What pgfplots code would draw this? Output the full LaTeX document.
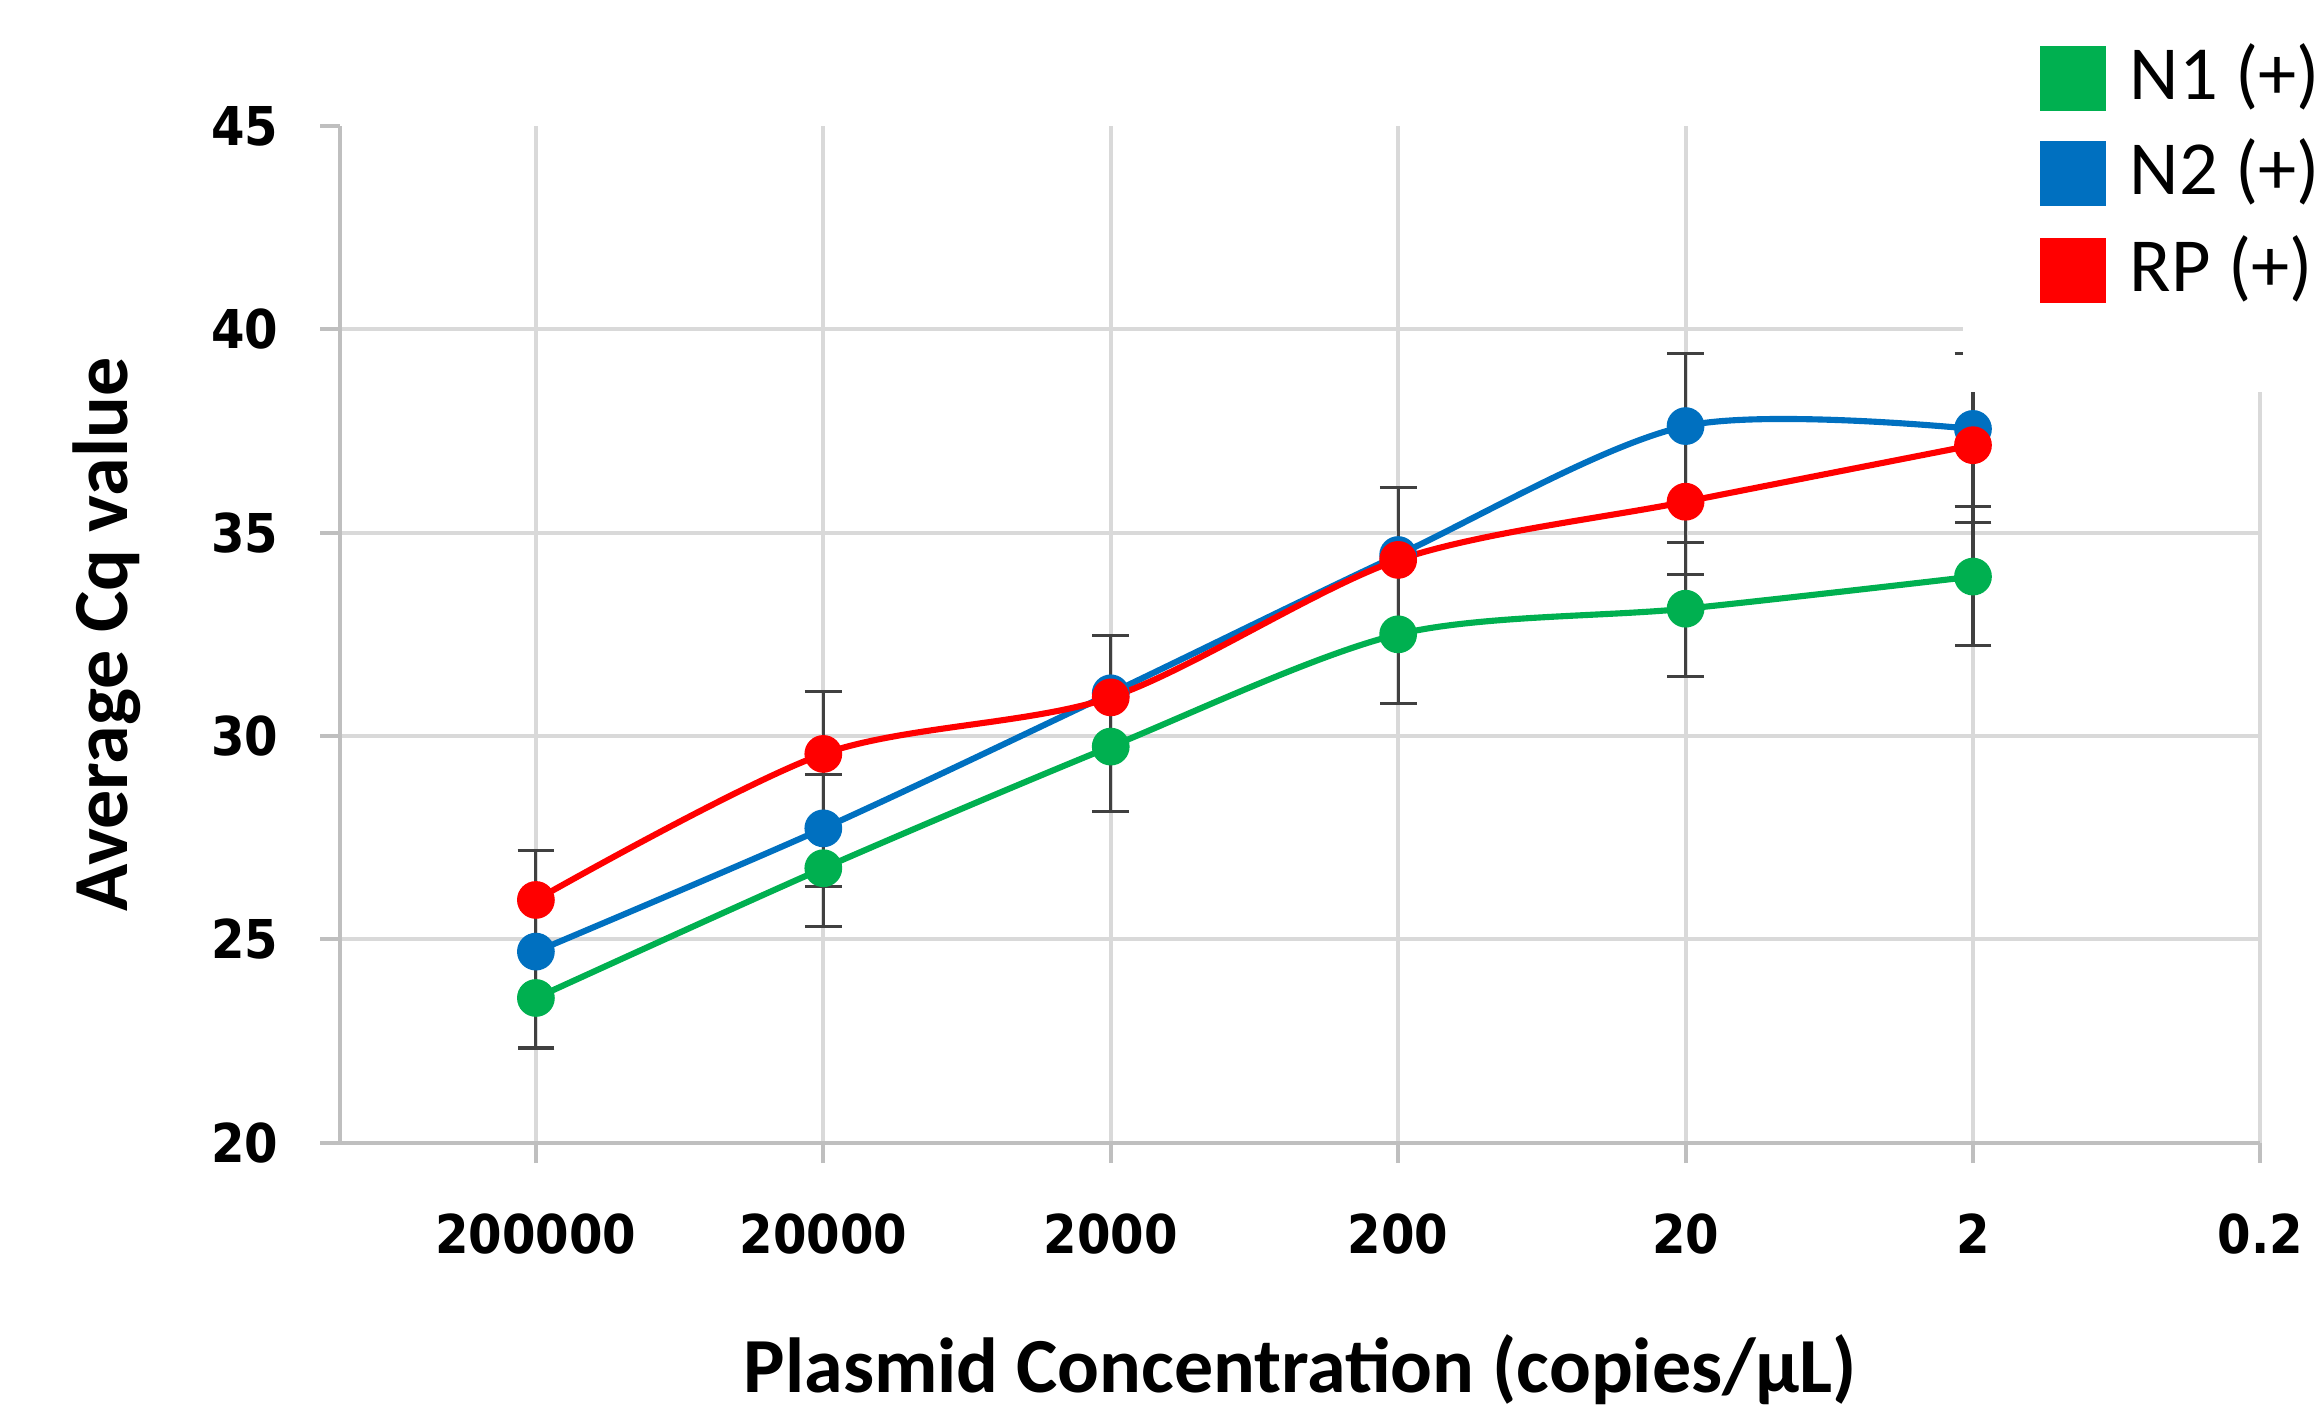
\documentclass[border=0pt]{standalone}
\usepackage{fontspec}
\setmainfont{Carlito}
\newfontfamily\tickfont{DejaVu Sans}[FakeStretch=0.9]
\usepackage{pgfplots}
\usepackage{pgfplotstable}
\pgfplotsset{compat=1.18}

\definecolor{nonegreen}{HTML}{00B050}
\definecolor{ntwoblue}{HTML}{0070C0}
\definecolor{rpred}{HTML}{FF0000}
\definecolor{gridgray}{HTML}{D9D9D9}
\definecolor{axisgray}{HTML}{BFBFBF}
\definecolor{errgray}{HTML}{404040}

% x = category index (200000, 20000, ..., 2), y = average Cq, ep/em = error bar ends
\pgfplotstableread{
x y ep em
0 23.56 2.41 1.23
1 26.75 2.30 1.43
2 29.74 1.21 1.60
3 32.50 1.83 1.71
4 33.13 1.62 1.67
5 33.92 1.72 1.70
}\nonedata
\pgfplotstableread{
x y
0 24.70
1 27.73
2 31.05
3 34.45
4 37.62
5 37.55
}\ntwodata
\pgfplotstableread{
x y ep em
1 27.73 1.83 1.43
4 37.62 1.78 1.86
5 37.55 1.85 0.40
}\ntwoerr
\pgfplotstableread{
x y ep em
0 25.97 1.21 1.27
1 29.56 1.54 1.83
2 30.95 1.53 1.21
3 34.33 1.77 1.83
4 35.76 1.86 1.78
5 37.15 0.40 1.90
}\rpdata

\pgfplotsset{
  errbar/.style={only marks, mark=none, forget plot,
    error bars/.cd, y dir=both, y explicit,
    error bar style={draw=errgray, line width=0.6pt},
    error mark options={rotate=90, draw=errgray, mark size=3.6pt, line width=0.6pt}},
  series/.style={color=#1, line width=1.2pt, smooth, mark=*, mark size=3.1pt,
    mark options={solid, fill=#1, draw=#1}},
}

\begin{document}
\begin{tikzpicture}
\begin{axis}[
  at={(0,0)}, anchor=south west,
  scale only axis, width=13.235cm, height=7.01cm,
  xmin=-0.68, xmax=6, ymin=20, ymax=45,
  axis lines=left,
  axis line style={-, draw=axisgray, line width=0.8pt},
  xtick={0,...,6},
  xticklabels={200000,20000,2000,200,20,2,0.2},
  ytick={20,25,...,40},
  extra y ticks={45},
  extra y tick style={grid=none},
  grid=major,
  major grid style={draw=gridgray, line width=0.8pt},
  tick align=outside,
  major tick length=0.14cm,
  tick style={draw=axisgray, line width=0.8pt},
  /pgf/number format/assume math mode=true,
  ticklabel style={font=\tickfont\bfseries\fontsize{10.5}{12}\selectfont, text=black},
  xticklabel style={anchor=north, inner sep=0pt, yshift=-0.34cm},
  yticklabel style={anchor=east, inner sep=0pt, xshift=-0.28cm},
  xlabel={Plasmid Concentration (copies/µL)},
  ylabel={Average Cq value},
  label style={font=\bfseries\fontsize{15.3}{18}\selectfont},
  xlabel style={at={(axis description cs:0.5,-0.2227)}, anchor=center},
  ylabel style={at={(axis description cs:-0.1218,0.5)}, anchor=center},
]
\addplot[errbar] table[x=x, y=y, y error plus=ep, y error minus=em] {\nonedata};
\addplot[errbar] table[x=x, y=y, y error plus=ep, y error minus=em] {\ntwoerr};
\addplot[errbar] table[x=x, y=y, y error plus=ep, y error minus=em] {\rpdata};

\addplot[series=nonegreen] table[x=x, y=y] {\nonedata};
\addplot[series=ntwoblue] table[x=x, y=y] {\ntwodata};
\addplot[series=rpred] table[x=x, y=y] {\rpdata};
\end{axis}

% legend
\fill[white] (11.184,5.174) rectangle (14.2,8.2);
\fill[nonegreen] (11.714,7.114) rectangle (12.173,7.561);
\fill[ntwoblue] (11.714,6.460) rectangle (12.173,6.908);
\fill[rpred] (11.714,5.792) rectangle (12.173,6.240);
\begin{scope}[every node/.style={anchor=base west, inner sep=0pt, font=\fontsize{15}{18}\selectfont}]
\node at (12.327,7.193) {N1 (+)};
\node at (12.327,6.538) {N2 (+)};
\node at (12.327,5.871) {RP (+)};
\end{scope}

\pgfresetboundingbox
\useasboundingbox (-2.347,-1.898) rectangle (13.653,7.878);
\end{tikzpicture}
\end{document}
